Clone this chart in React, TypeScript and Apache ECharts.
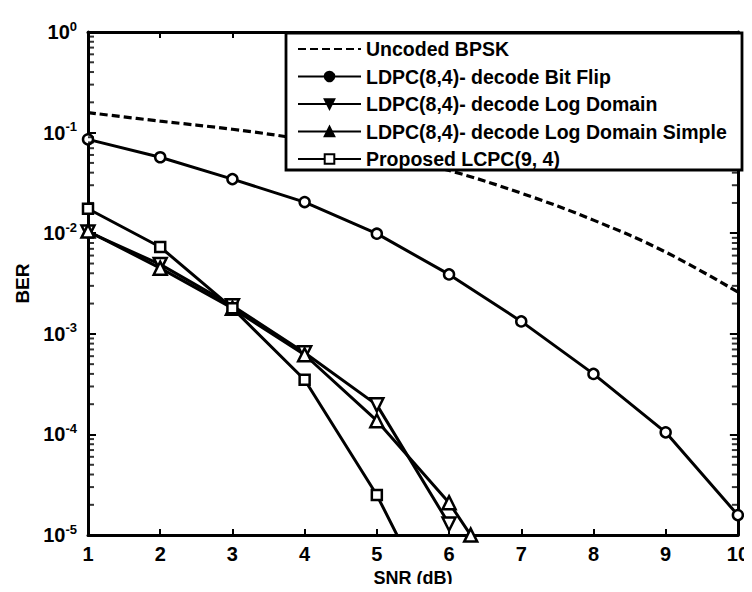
import React, { useEffect, useRef } from "react";
import * as echarts from "echarts";

// SNR sweep (dB)
const snr = [1, 2, 3, 4, 5, 6, 7, 8, 9, 10];
const uncodedBpsk = [0.158, 0.13, 0.108, 0.085, 0.062, 0.042, 0.025, 0.0135, 0.0065, 0.0026];
const bitFlip = [0.0857, 0.0569, 0.0345, 0.0204, 0.0099, 0.0039, 0.00133, 0.0004, 0.000105, 0.0000158];

const logDomainX = [1, 2, 3, 4, 5, 6];
const logDomain = [0.0103, 0.0049, 0.0019, 0.00065, 0.000197, 0.0000129];

const logSimpleX = [1, 2, 3, 4, 5, 6, 6.3];
const logSimple = [0.0105, 0.0045, 0.0018, 0.00062, 0.000137, 0.000021, 0.00001];

const proposedX = [1, 2, 3, 4, 5, 6];
const proposed = [0.0175, 0.0073, 0.0018, 0.00035, 0.000025, 0.00000095];

const seriesNames = [
  "Uncoded BPSK",
  "LDPC(8,4)- decode Bit Flip",
  "LDPC(8,4)- decode Log Domain",
  "LDPC(8,4)- decode Log Domain Simple",
  "Proposed LCPC(9, 4)",
];

// log-axis minor tick positions: mantissas 2..9 in each decade
const minorMantissas = [2, 3, 4, 5, 6, 7, 8, 9];
const minorDecades = [1e-5, 1e-4, 1e-3, 1e-2, 1e-1];

const FONT = "Liberation Sans";
const BLACK = "#000";

const zip = (xs: number[], ys: number[]) => xs.map((x, i) => [x, ys[i]]);

export default function App() {
  const ref = useRef<HTMLDivElement>(null);

  useEffect(() => {
    if (!ref.current) return;
    const chart = echarts.init(ref.current, undefined, { renderer: "svg" });

    const minorValues: number[] = [];
    minorDecades.forEach((d) => minorMantissas.forEach((m) => minorValues.push(m * d)));

    const markerStyle = {
      color: "#fff",
      borderColor: BLACK,
      borderWidth: 2.5,
    };

    const lineBase = {
      type: "line" as const,
      xAxisIndex: 0,
      yAxisIndex: 0,
      lineStyle: { color: BLACK, width: 3 },
      z: 2,
    };

    const axisLine = { show: true, onZero: false, lineStyle: { color: BLACK, width: 3 } };
    const xTick = { show: true, inside: true, length: 6, lineStyle: { color: BLACK, width: 2 } };
    const yTick = { show: true, inside: true, length: 8, lineStyle: { color: BLACK, width: 2 } };

    // short inward tick marks on the left and right frame edges
    const minorTickSeries = (xEdge: number, offset: number) => ({
      type: "scatter" as const,
      xAxisIndex: 0,
      yAxisIndex: 0,
      silent: true,
      clip: false,
      z: 2,
      symbol: "rect",
      symbolSize: [6, 2],
      symbolOffset: [offset, 0],
      itemStyle: { color: BLACK },
      data: minorValues.map((v) => [xEdge, v]),
    });

    chart.setOption({
      animation: false,
      backgroundColor: "#fff",
      grid: { left: 88, right: 12, top: 32, bottom: 54 },
      xAxis: [
        {
          type: "value",
          min: 1,
          max: 10,
          interval: 1,
          name: "SNR (dB)",
          nameLocation: "middle",
          nameGap: 25,
          nameTextStyle: { fontFamily: FONT, fontWeight: "bold", fontSize: 18, color: BLACK },
          axisLine,
          axisTick: xTick,
          axisLabel: { fontFamily: FONT, fontWeight: "bold", fontSize: 20, color: BLACK, margin: 9 },
          splitLine: { show: false },
        },
        {
          type: "value",
          position: "top",
          min: 1,
          max: 10,
          interval: 1,
          axisLine,
          axisTick: xTick,
          axisLabel: { show: false },
          splitLine: { show: false },
        },
      ],
      yAxis: [
        {
          type: "log",
          logBase: 10,
          min: 1e-5,
          max: 1,
          name: "BER",
          nameLocation: "middle",
          nameGap: 52,
          nameTextStyle: { fontFamily: FONT, fontWeight: "bold", fontSize: 19, color: BLACK },
          axisLine,
          axisTick: yTick,
          axisLabel: {
            margin: 11,
            formatter: (v: number) => `{b|10}{e|${Math.round(Math.log10(v))}}`,
            rich: {
              b: { fontFamily: FONT, fontWeight: "bold", fontSize: 20, color: BLACK, lineHeight: 22 },
              e: {
                fontFamily: FONT,
                fontWeight: "bold",
                fontSize: 13,
                color: BLACK,
                verticalAlign: "bottom",
                padding: [0, 0, 12, 0],
              },
            },
          },
          splitLine: { show: false },
        },
        {
          type: "log",
          logBase: 10,
          min: 1e-5,
          max: 1,
          position: "right",
          axisLine,
          axisTick: yTick,
          axisLabel: { show: false },
          splitLine: { show: false },
        },
      ],
      legend: {
        orient: "vertical",
        left: 286,
        top: 33,
        padding: [6, 10, 9, 11],
        itemWidth: 63,
        itemHeight: 12,
        itemGap: 7.5,
        z: 4,
        selectedMode: false,
        textStyle: { fontFamily: FONT, fontWeight: "bold", fontSize: 19.5, color: BLACK, lineHeight: 20 },
        data: [
          { name: seriesNames[0], itemStyle: { opacity: 0 } },
          { name: seriesNames[1], itemStyle: { color: BLACK } },
          { name: seriesNames[2], itemStyle: { color: BLACK } },
          { name: seriesNames[3], itemStyle: { color: BLACK } },
          { name: seriesNames[4] },
        ],
      },
      graphic: [
        {
          type: "rect",
          z: 3,
          shape: { x: 286, y: 33, width: 456, height: 137 },
          style: { fill: "#fff", stroke: BLACK, lineWidth: 2.8 },
        },
      ],
      series: [
        {
          ...lineBase,
          name: seriesNames[0],
          data: zip(snr, uncodedBpsk),
          symbol: "none",
          smooth: 0.4,
          itemStyle: { color: BLACK },
          lineStyle: { color: BLACK, width: 3.2, type: [8, 4] },
        },
        {
          ...lineBase,
          name: seriesNames[1],
          data: zip(snr, bitFlip),
          symbol: "circle",
          symbolSize: 10,
          itemStyle: markerStyle,
        },
        {
          ...lineBase,
          name: seriesNames[2],
          data: zip(logDomainX, logDomain),
          symbol: "triangle",
          symbolRotate: 180,
          symbolSize: 13,
          itemStyle: markerStyle,
        },
        {
          ...lineBase,
          name: seriesNames[3],
          data: zip(logSimpleX, logSimple),
          symbol: "triangle",
          symbolSize: 13,
          itemStyle: markerStyle,
        },
        {
          ...lineBase,
          name: seriesNames[4],
          data: zip(proposedX, proposed),
          symbol: "rect",
          symbolSize: 10,
          itemStyle: markerStyle,
        },
        minorTickSeries(1, 3),
        minorTickSeries(10, -3),
      ],
    });

    return () => chart.dispose();
  }, []);

  return <div ref={ref} style={{ width: 752, height: 592, margin: -8 }} />;
}
